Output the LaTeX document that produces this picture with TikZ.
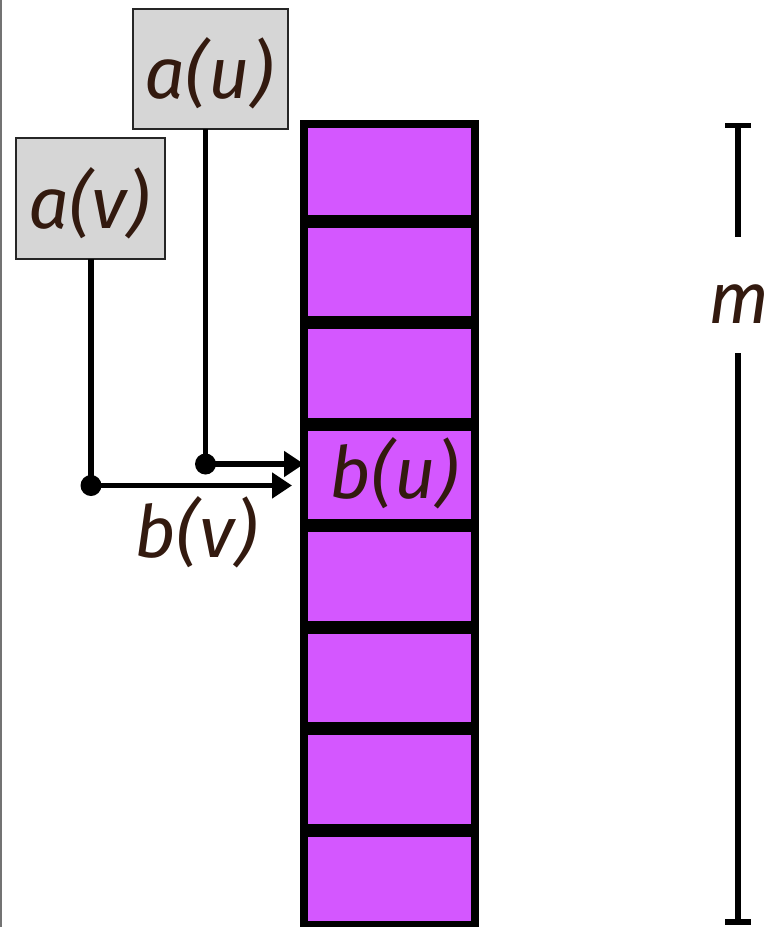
\documentclass[tikz,border=0pt]{standalone}
\usepackage{fontspec}
\setmainfont{Fira Sans}
\usetikzlibrary{arrows.meta}
\definecolor{cellpurple}{RGB}{212,87,255}
\definecolor{boxgray}{RGB}{214,214,214}
\definecolor{txtbrown}{RGB}{51,26,15}
\begin{document}
\begin{tikzpicture}[x=1pt,y=-1pt,
  abox/.style={draw=black!85, line width=2pt, fill=boxgray, inner sep=0pt, outer sep=0pt},
  lbl/.style={text=txtbrown, font=\fontsize{72}{80}\selectfont\itshape, inner sep=0pt, anchor=base},
  conn/.style={line width=5.5pt, black},
  arr/.style={conn, -{Triangle[length=20pt,width=25pt]}},
  dim/.style={line width=5.3pt, black},
  colbox/.style={draw=black, line width=8pt, fill=cellpurple, inner sep=0pt, outer sep=0pt}]
\useasboundingbox (0,0) rectangle (769,927);
\fill[white] (0,0) rectangle (769,927);
\draw[line width=1.5pt, gray!90!black] (0.75,0) -- (0.75,927);
% column
\node[colbox, minimum width=171pt, minimum height=801.5pt] (col) at (389.5,524.25) {};
\foreach \yy in {221.5,322.9,424.3,525.7,627.1,728.5,830}
  \draw[line width=13pt] (304,\yy) -- (475,\yy);
% boxes
\node[abox, minimum width=155pt, minimum height=120pt] (au) at (210.5,69) {};
\node[abox, minimum width=149pt, minimum height=121pt] (av) at (90.5,198.5) {};
\node[lbl] (aut) at (209,98) {a(u)};
\node[lbl] (avt) at (89,228) {a(v)};
% connectors
\coordinate (du) at (205.5,464);
\coordinate (dv) at (91,485.5);
\draw[conn] (au.south -| du) -- (du);
\draw[conn] (av.south -| dv) -- (dv);
\draw[arr] (du) -- (du -| col.west);
\draw[arr] (dv) -- ([xshift=-12pt]dv -| col.west);
\fill (du) circle (10.5);
\fill (dv) circle (10.5);
\node[lbl] (bu) at (394,498) {b(u)};
\node[lbl] (bv) at (196,557) {b(v)};
% dimension
\coordinate (mtop) at (738,125.5);
\coordinate (mbot) at (738,922);
\coordinate (mgap1) at (738,237);
\coordinate (mgap2) at (738,353);
\draw[dim] (mtop) -- (mgap1);
\draw[dim] (mgap2) -- (mbot);
\draw[dim] ([xshift=-13pt]mtop) -- ([xshift=13pt]mtop);
\draw[dim] ([xshift=-13pt]mbot) -- ([xshift=13pt]mbot);
\node[lbl] (m) at (739,323) {m};
\end{tikzpicture}
\end{document}
